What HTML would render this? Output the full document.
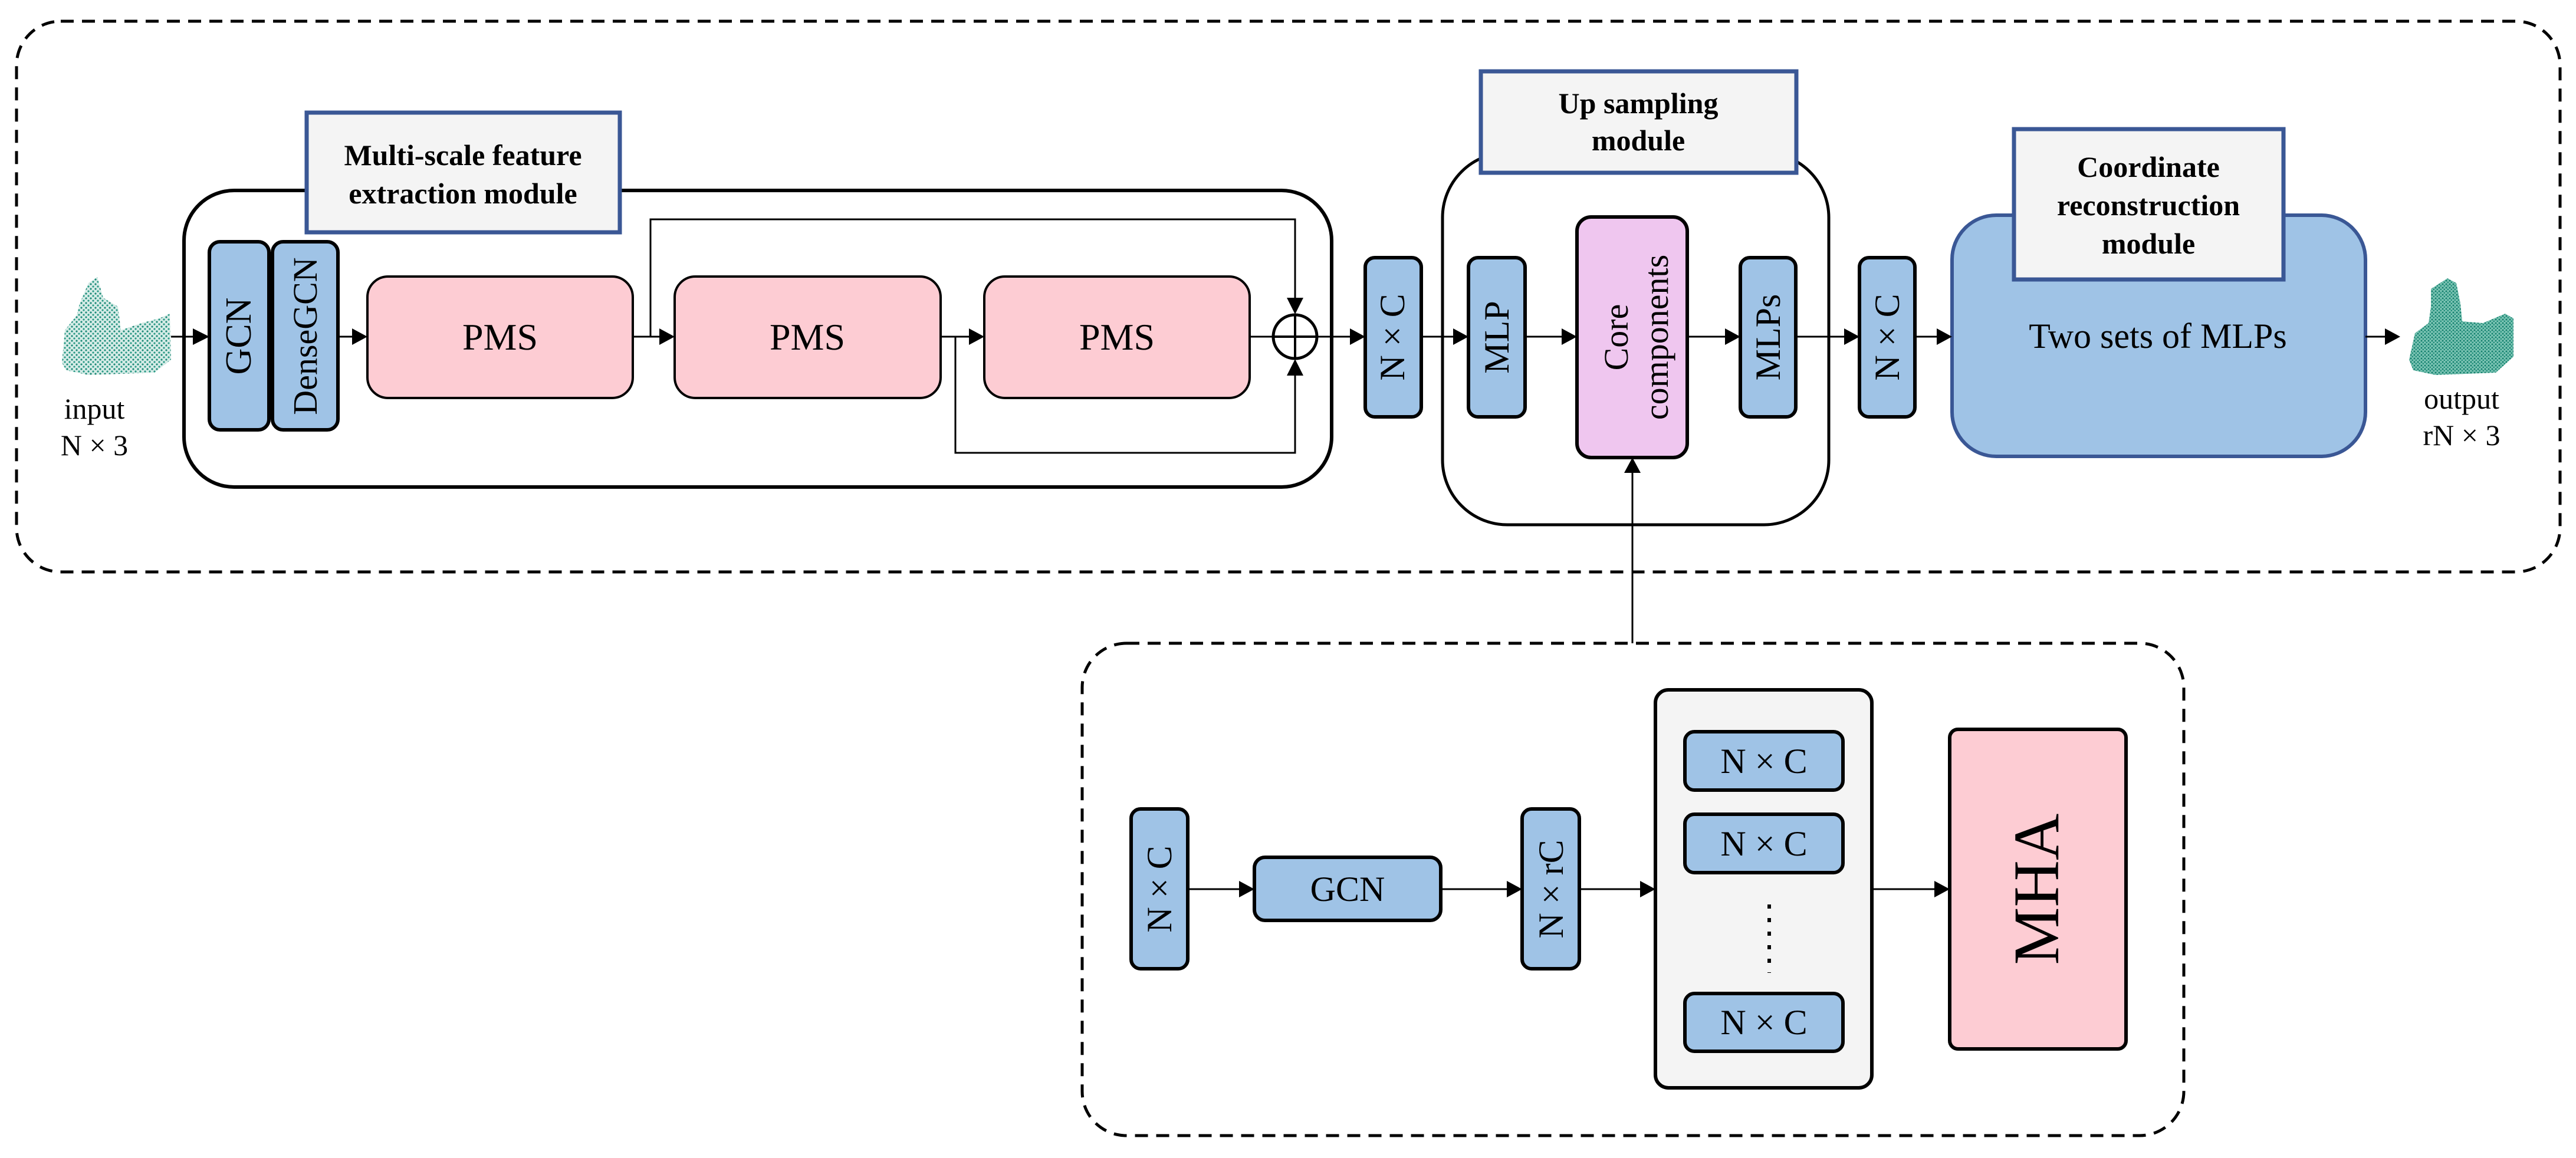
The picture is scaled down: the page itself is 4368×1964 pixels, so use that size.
<!DOCTYPE html>
<html><head><meta charset="utf-8"><style>
html,body{margin:0;padding:0;background:#fff;}
svg{display:block;font-family:"Liberation Serif","Times New Roman",serif;}
svg text{font-family:"Liberation Serif","Times New Roman",serif;fill:#000;}
</style></head><body>
<svg width="4368" height="1964" viewBox="0 0 4368 1964" xmlns="http://www.w3.org/2000/svg" font-family="Liberation Serif, serif">
<defs>
<pattern id="dots" width="8" height="8" patternUnits="userSpaceOnUse">
<rect width="8" height="8" fill="#d6ece7"/>
<circle cx="2" cy="2" r="1.6" fill="#1f8a78"/><circle cx="6" cy="6" r="1.6" fill="#2a9a86"/>
</pattern>
<pattern id="dots2" width="6" height="6" patternUnits="userSpaceOnUse">
<rect width="6" height="6" fill="#7cc4b4"/>
<circle cx="2" cy="2" r="1.5" fill="#15806e"/><circle cx="5" cy="5" r="1.5" fill="#1d8c78"/>
</pattern>
</defs>

<!-- outer dashed boxes -->
<rect x="28" y="36" width="4313" height="934" rx="75" fill="none" stroke="#000" stroke-width="5" stroke-dasharray="22 14"/>
<rect x="1835" y="1091" width="1868" height="835" rx="75" fill="none" stroke="#000" stroke-width="5" stroke-dasharray="22 14"/>

<!-- multi-scale module -->
<rect x="312" y="323" width="1946" height="503" rx="85" fill="#fff" stroke="#000" stroke-width="6"/>
<rect x="520" y="191" width="531" height="203" fill="#f4f4f4" stroke="#3a5795" stroke-width="7"/>
<text x="785" y="280" font-size="50" font-weight="bold" text-anchor="middle">Multi-scale feature</text>
<text x="785" y="345" font-size="50" font-weight="bold" text-anchor="middle">extraction module</text>

<rect x="355" y="410" width="101" height="319" rx="18" fill="#9fc3e6" stroke="#000" stroke-width="6"/>
<rect x="462" y="410" width="111" height="319" rx="18" fill="#9fc3e6" stroke="#000" stroke-width="6"/>
<text transform="translate(425,570) rotate(-90)" font-size="62" text-anchor="middle">GCN</text>
<text transform="translate(537,570) rotate(-90)" font-size="58" text-anchor="middle">DenseGCN</text>

<rect x="623" y="469" width="450" height="206" rx="35" fill="#fdccd3" stroke="#000" stroke-width="4"/>
<rect x="1144" y="469" width="451" height="206" rx="35" fill="#fdccd3" stroke="#000" stroke-width="4"/>
<rect x="1669" y="469" width="450" height="206" rx="35" fill="#fdccd3" stroke="#000" stroke-width="4"/>
<text x="848" y="593" font-size="64" text-anchor="middle">PMS</text>
<text x="1369" y="593" font-size="64" text-anchor="middle">PMS</text>
<text x="1894" y="593" font-size="64" text-anchor="middle">PMS</text>

<!-- skips -->
<polyline points="1103,571 1103,372 2196,372 2196,505" fill="none" stroke="#000" stroke-width="3"/>
<polyline points="1620,571 1620,768 2196,768 2196,637" fill="none" stroke="#000" stroke-width="3"/>
<polygon points="2182,505 2210,505 2196,533" fill="#000"/>
<polygon points="2182,637 2210,637 2196,609" fill="#000"/>
<circle cx="2196" cy="571" r="37" fill="#fff" stroke="#000" stroke-width="5"/>
<line x1="2159" y1="571" x2="2233" y2="571" stroke="#000" stroke-width="4"/>
<line x1="2196" y1="534" x2="2196" y2="608" stroke="#000" stroke-width="4"/>

<!-- up sampling module -->
<rect x="2446" y="259" width="655" height="631" rx="110" fill="#fff" stroke="#000" stroke-width="5"/>
<rect x="2511" y="121" width="535" height="172" fill="#f4f4f4" stroke="#3a5795" stroke-width="7"/>
<text x="2778" y="192" font-size="50" font-weight="bold" text-anchor="middle">Up sampling</text>
<text x="2778" y="255" font-size="50" font-weight="bold" text-anchor="middle">module</text>

<rect x="2315" y="437" width="95" height="270" rx="16" fill="#9fc3e6" stroke="#000" stroke-width="6"/>
<text transform="translate(2381,572) rotate(-90)" font-size="60" text-anchor="middle">N × C</text>
<rect x="2490" y="437" width="96" height="270" rx="16" fill="#9fc3e6" stroke="#000" stroke-width="6"/>
<text transform="translate(2558,572) rotate(-90)" font-size="60" text-anchor="middle">MLP</text>
<rect x="2674" y="368" width="187" height="408" rx="24" fill="#efc6ef" stroke="#000" stroke-width="6"/>
<text transform="translate(2760,572) rotate(-90)" font-size="58" text-anchor="middle">Core</text>
<text transform="translate(2828,572) rotate(-90)" font-size="58" text-anchor="middle">components</text>
<rect x="2951" y="437" width="94" height="270" rx="16" fill="#9fc3e6" stroke="#000" stroke-width="6"/>
<text transform="translate(3018,572) rotate(-90)" font-size="60" text-anchor="middle">MLPs</text>
<rect x="3153" y="437" width="94" height="270" rx="16" fill="#9fc3e6" stroke="#000" stroke-width="6"/>
<text transform="translate(3220,572) rotate(-90)" font-size="60" text-anchor="middle">N × C</text>

<!-- coordinate reconstruction -->
<rect x="3310" y="365" width="701" height="409" rx="75" fill="#9fc3e6" stroke="#3a5795" stroke-width="6"/>
<rect x="3415" y="219" width="457" height="255" fill="#f4f4f4" stroke="#3a5795" stroke-width="7"/>
<text x="3643" y="300" font-size="50" font-weight="bold" text-anchor="middle">Coordinate</text>
<text x="3643" y="365" font-size="50" font-weight="bold" text-anchor="middle">reconstruction</text>
<text x="3643" y="430" font-size="50" font-weight="bold" text-anchor="middle">module</text>
<text x="3659" y="590" font-size="60" text-anchor="middle">Two sets of MLPs</text>

<!-- ducks -->
<path d="M105,615 L110,560 L130,535 L135,515 L150,480 L165,470 L175,505 L200,520 L205,560 L240,548 L270,540 L288,532 L290,610 L262,632 L150,636 L112,628 Z" fill="url(#dots)"/>
<path d="M4085,610 L4095,565 L4118,548 L4122,520 L4122,490 L4150,472 L4165,480 L4172,515 L4175,545 L4210,548 L4248,532 L4262,540 L4262,605 L4232,632 L4130,636 L4092,628 Z" fill="url(#dots2)"/>
<text x="160" y="710" font-size="50" text-anchor="middle">input</text>
<text x="160" y="772" font-size="50" text-anchor="middle">N × 3</text>
<text x="4174" y="693" font-size="50" text-anchor="middle">output</text>
<text x="4174" y="755" font-size="50" text-anchor="middle">rN × 3</text>

<!-- main arrows -->
<g stroke="#000" stroke-width="3">
<line x1="290" y1="571" x2="330" y2="571"/>
<line x1="573" y1="571" x2="600" y2="571"/>
<line x1="1073" y1="571" x2="1120" y2="571"/>
<line x1="1595" y1="571" x2="1645" y2="571"/>
<line x1="2119" y1="571" x2="2159" y2="571"/>
<line x1="2233" y1="571" x2="2290" y2="571"/>
<line x1="2410" y1="571" x2="2466" y2="571"/>
<line x1="2586" y1="571" x2="2650" y2="571"/>
<line x1="2861" y1="571" x2="2927" y2="571"/>
<line x1="3045" y1="571" x2="3129" y2="571"/>
<line x1="3247" y1="571" x2="3286" y2="571"/>
<line x1="4011" y1="571" x2="4046" y2="571"/>
<line x1="2768" y1="1091" x2="2768" y2="800"/>
<line x1="2014" y1="1508" x2="2103" y2="1508"/>
<line x1="2443" y1="1508" x2="2557" y2="1508"/>
<line x1="2678" y1="1508" x2="2783" y2="1508"/>
<line x1="3174" y1="1508" x2="3282" y2="1508"/>
</g>
<g fill="#000">
<polygon points="327,557 355,571 327,585"/>
<polygon points="597,557 623,571 597,585"/>
<polygon points="1118,557 1144,571 1118,585"/>
<polygon points="1643,557 1669,571 1643,585"/>
<polygon points="2289,557 2315,571 2289,585"/>
<polygon points="2464,557 2490,571 2464,585"/>
<polygon points="2648,557 2674,571 2648,585"/>
<polygon points="2925,557 2951,571 2925,585"/>
<polygon points="3127,557 3153,571 3127,585"/>
<polygon points="3284,557 3310,571 3284,585"/>
<polygon points="4044,557 4070,571 4044,585"/>
<polygon points="2754,802 2782,802 2768,776"/>
<polygon points="2101,1494 2127,1508 2101,1522"/>
<polygon points="2555,1494 2581,1508 2555,1522"/>
<polygon points="2781,1494 2807,1508 2781,1522"/>
<polygon points="3280,1494 3306,1508 3280,1522"/>
</g>

<!-- lower module -->
<rect x="1918" y="1372" width="96" height="271" rx="16" fill="#9fc3e6" stroke="#000" stroke-width="6"/>
<text transform="translate(1986,1508) rotate(-90)" font-size="60" text-anchor="middle">N × C</text>
<rect x="2127" y="1454" width="316" height="107" rx="18" fill="#9fc3e6" stroke="#000" stroke-width="6"/>
<text x="2285" y="1528" font-size="60" text-anchor="middle">GCN</text>
<rect x="2581" y="1372" width="97" height="271" rx="16" fill="#9fc3e6" stroke="#000" stroke-width="6"/>
<text transform="translate(2650,1508) rotate(-90)" font-size="60" text-anchor="middle">N × rC</text>

<rect x="2807" y="1170" width="367" height="675" rx="22" fill="#f4f4f4" stroke="#000" stroke-width="6"/>
<rect x="2857" y="1241" width="268" height="99" rx="16" fill="#9fc3e6" stroke="#000" stroke-width="6"/>
<text x="2991" y="1311" font-size="60" text-anchor="middle">N × C</text>
<rect x="2857" y="1381" width="268" height="99" rx="16" fill="#9fc3e6" stroke="#000" stroke-width="6"/>
<text x="2991" y="1451" font-size="60" text-anchor="middle">N × C</text>
<rect x="2857" y="1685" width="268" height="98" rx="16" fill="#9fc3e6" stroke="#000" stroke-width="6"/>
<text x="2991" y="1754" font-size="60" text-anchor="middle">N × C</text>
<line x1="3000" y1="1534" x2="3000" y2="1650" stroke="#000" stroke-width="6" stroke-dasharray="7 16"/>

<rect x="3306" y="1237" width="299" height="542" rx="14" fill="#fdccd3" stroke="#000" stroke-width="6"/>
<text transform="translate(3490,1508) rotate(-90)" font-size="110" text-anchor="middle">MHA</text>
</svg>
</body></html>
